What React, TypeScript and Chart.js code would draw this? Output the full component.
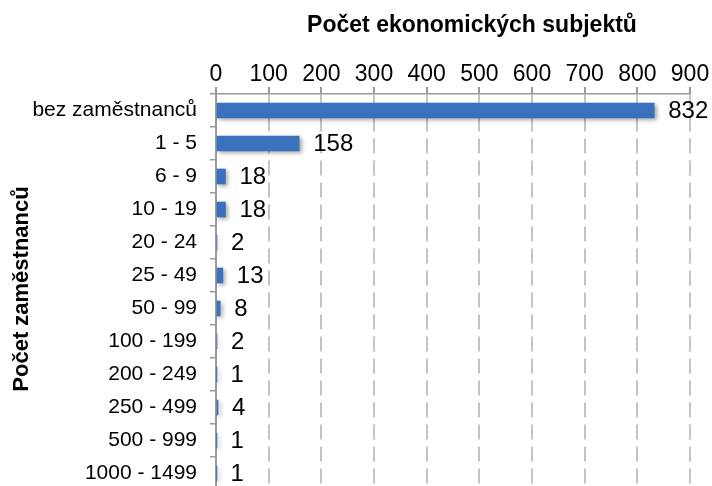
import React, { useEffect, useRef } from "react";
import { Chart, registerables } from "chart.js";

Chart.register(...registerables);

const categories = [
  "bez zaměstnanců",
  "1 - 5",
  "6 - 9",
  "10 - 19",
  "20 - 24",
  "25 - 49",
  "50 - 99",
  "100 - 199",
  "200 - 249",
  "250 - 499",
  "500 - 999",
  "1000 - 1499",
];
const values = [832, 158, 18, 18, 2, 13, 8, 2, 1, 4, 1, 1];
const xTitle = "Počet ekonomických subjektů";
const yTitle = "Počet zaměstnanců";
const FONT = "'Liberation Sans', Arial, sans-serif";

const shadowPlugin = {
  id: "barShadow",
  beforeDatasetsDraw(chart: any) {
    const ctx = chart.ctx;
    ctx.save();
    ctx.shadowColor = "rgba(0,0,0,0.35)";
    ctx.shadowBlur = 4;
    ctx.shadowOffsetX = 2;
    ctx.shadowOffsetY = 2;
  },
  afterDatasetsDraw(chart: any) {
    chart.ctx.restore();
  },
};

const labelPlugin = {
  id: "valueLabels",
  afterDraw(chart: any) {
    const ctx = chart.ctx;
    const meta = chart.getDatasetMeta(0);
    const area = chart.chartArea;
    ctx.save();
    ctx.font = `24px ${FONT}`;
    ctx.fillStyle = "#000";
    ctx.textBaseline = "middle";
    ctx.textAlign = "left";
    meta.data.forEach((bar: any, i: number) => {
      ctx.fillText(String(values[i]), bar.x + 14, bar.y + 1);
    });
    // x axis title (top)
    ctx.font = `bold 23px ${FONT}`;
    ctx.textAlign = "center";
    ctx.textBaseline = "alphabetic";
    ctx.fillText(xTitle, 472, 32);
    // y axis title
    ctx.font = `bold 22px ${FONT}`;
    ctx.translate(28, 289);
    ctx.rotate(-Math.PI / 2);
    ctx.textAlign = "center";
    ctx.fillText(yTitle, 0, 0);
    ctx.restore();
  },
};

export default function App() {
  const ref = useRef<HTMLCanvasElement>(null);
  useEffect(() => {
    if (!ref.current) return;
    const chart = new Chart(ref.current, {
      type: "bar",
      data: {
        labels: categories,
        datasets: [
          {
            data: values,
            backgroundColor: (c: any) => {
              const el = c.element;
              const ctx = c.chart.ctx;
              if (!el || el.y === undefined) return "#3a71bd";
              const g = ctx.createLinearGradient(0, el.y - 7.5, 0, el.y + 7.5);
              g.addColorStop(0, "#4a82cc");
              g.addColorStop(0.5, "#3b73c0");
              g.addColorStop(1, "#2f62a8");
              return g;
            },
            barThickness: 15,
            borderWidth: 0,
          },
        ],
      },
      options: {
        indexAxis: "y",
        animation: false,
        responsive: false,
        maintainAspectRatio: false,
        layout: { padding: { left: 0, right: 22, top: 0, bottom: 0 } },
        plugins: {
          legend: { display: false },
          tooltip: { enabled: false },
        },
        scales: {
          x: {
            position: "top",
            min: 0,
            max: 900,
            afterFit: (s: any) => {
              s.height = 94;
              s.paddingLeft = 0;
              s.paddingRight = 0;
            },
            ticks: {
              stepSize: 100,
              color: "#000",
              font: { family: FONT, size: 23 },
              padding: -1,
            },
            grid: {
              color: "#c4c4c4",
              lineWidth: 2,
              tickLength: 7,
              tickColor: "#9a9a9a",
            },
            border: { display: true, color: "#9a9a9a", dash: [15, 7], width: 1.5 },
          },
          y: {
            afterFit: (s: any) => {
              s.width = 216;
              s.paddingTop = 0;
              s.paddingBottom = 0;
            },
            ticks: {
              color: "#000",
              font: { family: FONT, size: 21 },
              padding: 13,
            },
            grid: {
              display: true,
              offset: true,
              drawOnChartArea: false,
              tickLength: 6,
              tickColor: "#9a9a9a",
              lineWidth: 1.5,
            },
            border: { display: true, color: "#9a9a9a", width: 2 },
          },
        },
      },
      plugins: [shadowPlugin, labelPlugin],
    } as any);
    return () => chart.destroy();
  }, []);
  return (
    <div
      style={{
        position: "fixed",
        left: 0,
        top: 0,
        width: 712,
        height: 486,
        overflow: "hidden",
        background: "#fff",
      }}
    >
      <canvas ref={ref} width={712} height={490} style={{ display: "block" }} />
    </div>
  );
}
